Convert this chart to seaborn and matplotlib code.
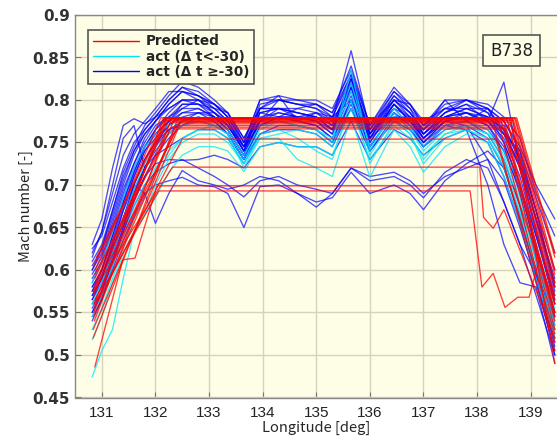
import matplotlib
matplotlib.use("Agg")
import matplotlib.pyplot as plt
from matplotlib.lines import Line2D
import pandas as pd
import seaborn as sns

sns.set_style("ticks")
plt.rcParams['font.family'] = ['Noto Sans CJK JP', 'DejaVu Sans']

# Longitudes at which the recorded (actual) Mach numbers are sampled
lon_act = [130.82, 131.0, 131.2, 131.4, 131.6, 131.8, 132.0, 132.25, 132.5, 132.8,
           133.1, 133.35, 133.65, 133.95, 134.3, 134.65, 135.0, 135.3, 135.65, 136.0,
           136.45, 136.75, 137.0, 137.4, 137.8, 138.2, 138.5, 138.8, 139.1, 139.45]

# Actual Mach number, flights with delta t >= -30
act_late = [
    [0.625, 0.64, 0.68, 0.72, 0.75, 0.765, 0.78, 0.80, 0.815, 0.81, 0.795, 0.78, 0.745, 0.795, 0.80, 0.795, 0.79, 0.775, 0.858, 0.765, 0.81, 0.79, 0.76, 0.785, 0.795, 0.785, 0.77, 0.73, 0.66, 0.575],
    [0.61, 0.63, 0.67, 0.715, 0.745, 0.77, 0.785, 0.805, 0.822, 0.815, 0.80, 0.785, 0.75, 0.80, 0.805, 0.80, 0.80, 0.79, 0.835, 0.77, 0.815, 0.795, 0.77, 0.795, 0.80, 0.79, 0.775, 0.745, 0.70, 0.66],
    [0.60, 0.62, 0.66, 0.70, 0.735, 0.76, 0.775, 0.795, 0.81, 0.805, 0.79, 0.775, 0.74, 0.79, 0.805, 0.775, 0.785, 0.77, 0.825, 0.76, 0.805, 0.785, 0.765, 0.79, 0.79, 0.78, 0.765, 0.735, 0.67, 0.58],
    [0.63, 0.66, 0.72, 0.77, 0.778, 0.772, 0.78, 0.79, 0.80, 0.80, 0.785, 0.77, 0.745, 0.785, 0.79, 0.785, 0.78, 0.765, 0.82, 0.755, 0.80, 0.785, 0.76, 0.785, 0.795, 0.775, 0.821, 0.72, 0.66, 0.59],
    [0.615, 0.645, 0.70, 0.755, 0.77, 0.72, 0.745, 0.775, 0.795, 0.795, 0.78, 0.765, 0.735, 0.78, 0.785, 0.78, 0.775, 0.76, 0.815, 0.75, 0.795, 0.775, 0.75, 0.775, 0.785, 0.775, 0.755, 0.71, 0.64, 0.56],
    [0.58, 0.60, 0.64, 0.68, 0.715, 0.745, 0.765, 0.785, 0.80, 0.80, 0.785, 0.77, 0.74, 0.785, 0.78, 0.78, 0.785, 0.78, 0.83, 0.76, 0.80, 0.78, 0.755, 0.78, 0.79, 0.78, 0.76, 0.72, 0.65, 0.565],
    [0.57, 0.59, 0.63, 0.67, 0.71, 0.74, 0.76, 0.775, 0.79, 0.79, 0.78, 0.765, 0.735, 0.775, 0.785, 0.78, 0.78, 0.765, 0.81, 0.755, 0.795, 0.775, 0.755, 0.78, 0.785, 0.775, 0.75, 0.70, 0.62, 0.535],
    [0.56, 0.58, 0.62, 0.66, 0.70, 0.73, 0.75, 0.77, 0.785, 0.79, 0.78, 0.765, 0.735, 0.775, 0.78, 0.78, 0.775, 0.76, 0.805, 0.75, 0.79, 0.77, 0.75, 0.775, 0.78, 0.77, 0.745, 0.69, 0.61, 0.52],
    [0.595, 0.615, 0.655, 0.695, 0.725, 0.75, 0.77, 0.78, 0.79, 0.80, 0.79, 0.775, 0.745, 0.79, 0.79, 0.785, 0.78, 0.77, 0.82, 0.765, 0.80, 0.785, 0.765, 0.80, 0.775, 0.79, 0.76, 0.725, 0.66, 0.585],
    [0.55, 0.57, 0.61, 0.65, 0.69, 0.72, 0.745, 0.765, 0.775, 0.78, 0.775, 0.76, 0.73, 0.77, 0.78, 0.775, 0.77, 0.755, 0.80, 0.745, 0.785, 0.77, 0.745, 0.77, 0.775, 0.76, 0.73, 0.675, 0.595, 0.51],
    [0.585, 0.61, 0.65, 0.69, 0.725, 0.755, 0.775, 0.795, 0.81, 0.805, 0.795, 0.78, 0.75, 0.775, 0.80, 0.795, 0.79, 0.78, 0.825, 0.765, 0.805, 0.79, 0.77, 0.79, 0.80, 0.79, 0.765, 0.72, 0.645, 0.56],
    [0.57, 0.59, 0.625, 0.66, 0.695, 0.72, 0.735, 0.745, 0.755, 0.765, 0.765, 0.755, 0.725, 0.76, 0.765, 0.765, 0.76, 0.745, 0.79, 0.74, 0.775, 0.765, 0.745, 0.765, 0.77, 0.755, 0.72, 0.665, 0.59, 0.50],
    [0.545, 0.565, 0.60, 0.635, 0.665, 0.69, 0.70, 0.705, 0.709, 0.70, 0.698, 0.69, 0.65, 0.698, 0.70, 0.69, 0.68, 0.685, 0.715, 0.69, 0.70, 0.69, 0.671, 0.705, 0.725, 0.74, 0.72, 0.66, 0.60, 0.53],
    [0.555, 0.575, 0.61, 0.645, 0.675, 0.70, 0.715, 0.725, 0.73, 0.72, 0.71, 0.70, 0.686, 0.705, 0.71, 0.70, 0.695, 0.69, 0.72, 0.71, 0.715, 0.705, 0.69, 0.71, 0.72, 0.73, 0.705, 0.65, 0.59, 0.515],
    [0.565, 0.59, 0.63, 0.67, 0.70, 0.69, 0.655, 0.69, 0.717, 0.705, 0.70, 0.695, 0.70, 0.71, 0.705, 0.69, 0.674, 0.69, 0.72, 0.705, 0.71, 0.70, 0.685, 0.715, 0.73, 0.72, 0.68, 0.63, 0.57, 0.50],
    [0.54, 0.565, 0.605, 0.645, 0.68, 0.71, 0.735, 0.755, 0.77, 0.78, 0.775, 0.76, 0.73, 0.77, 0.775, 0.77, 0.765, 0.75, 0.80, 0.745, 0.785, 0.77, 0.75, 0.77, 0.765, 0.70, 0.63, 0.585, 0.58, 0.49],
    [0.575, 0.60, 0.64, 0.68, 0.715, 0.745, 0.765, 0.78, 0.795, 0.795, 0.785, 0.77, 0.74, 0.785, 0.79, 0.785, 0.78, 0.765, 0.815, 0.755, 0.795, 0.775, 0.755, 0.775, 0.77, 0.73, 0.68, 0.63, 0.595, 0.545],
    [0.605, 0.625, 0.665, 0.705, 0.74, 0.765, 0.78, 0.80, 0.815, 0.805, 0.795, 0.78, 0.75, 0.80, 0.80, 0.795, 0.795, 0.785, 0.84, 0.77, 0.81, 0.795, 0.77, 0.80, 0.80, 0.795, 0.78, 0.755, 0.69, 0.64],
    [0.59, 0.61, 0.645, 0.685, 0.72, 0.745, 0.76, 0.775, 0.785, 0.785, 0.775, 0.76, 0.73, 0.77, 0.78, 0.775, 0.77, 0.755, 0.795, 0.745, 0.785, 0.765, 0.745, 0.77, 0.775, 0.765, 0.74, 0.695, 0.625, 0.545],
    [0.55, 0.575, 0.615, 0.65, 0.685, 0.71, 0.725, 0.73, 0.729, 0.73, 0.735, 0.73, 0.72, 0.745, 0.75, 0.745, 0.745, 0.735, 0.775, 0.73, 0.765, 0.755, 0.735, 0.755, 0.765, 0.75, 0.71, 0.655, 0.585, 0.505],
    [0.60, 0.625, 0.67, 0.71, 0.74, 0.76, 0.775, 0.79, 0.80, 0.795, 0.79, 0.785, 0.755, 0.79, 0.80, 0.80, 0.795, 0.785, 0.83, 0.77, 0.80, 0.795, 0.775, 0.79, 0.785, 0.77, 0.74, 0.70, 0.64, 0.57],
    [0.58, 0.60, 0.635, 0.675, 0.71, 0.74, 0.755, 0.77, 0.78, 0.785, 0.78, 0.77, 0.74, 0.775, 0.79, 0.79, 0.785, 0.775, 0.815, 0.76, 0.79, 0.78, 0.76, 0.78, 0.785, 0.78, 0.765, 0.73, 0.67, 0.60],
    [0.565, 0.585, 0.62, 0.655, 0.69, 0.72, 0.74, 0.76, 0.775, 0.785, 0.785, 0.775, 0.745, 0.77, 0.78, 0.79, 0.795, 0.78, 0.80, 0.755, 0.78, 0.78, 0.765, 0.785, 0.80, 0.785, 0.75, 0.70, 0.63, 0.55],
    [0.62, 0.645, 0.69, 0.735, 0.76, 0.775, 0.79, 0.81, 0.81, 0.80, 0.795, 0.785, 0.755, 0.79, 0.79, 0.78, 0.775, 0.765, 0.825, 0.76, 0.795, 0.78, 0.755, 0.775, 0.78, 0.775, 0.76, 0.74, 0.685, 0.62],
    [0.575, 0.595, 0.625, 0.66, 0.70, 0.73, 0.75, 0.765, 0.77, 0.775, 0.77, 0.76, 0.73, 0.76, 0.77, 0.77, 0.765, 0.75, 0.79, 0.74, 0.78, 0.775, 0.76, 0.78, 0.79, 0.79, 0.775, 0.74, 0.67, 0.58],
]

# Actual Mach number, flights with delta t < -30
act_early = [
    [0.474, 0.505, 0.53, 0.59, 0.645, 0.665, 0.685, 0.715, 0.735, 0.745, 0.745, 0.74, 0.716, 0.745, 0.75, 0.745, 0.745, 0.735, 0.79, 0.73, 0.77, 0.755, 0.735, 0.76, 0.765, 0.755, 0.725, 0.67, 0.60, 0.53],
    [0.518, 0.545, 0.585, 0.62, 0.645, 0.665, 0.70, 0.73, 0.75, 0.76, 0.76, 0.75, 0.725, 0.755, 0.755, 0.73, 0.72, 0.71, 0.78, 0.709, 0.765, 0.745, 0.715, 0.745, 0.76, 0.75, 0.71, 0.655, 0.59, 0.52],
    [0.56, 0.585, 0.62, 0.66, 0.695, 0.725, 0.745, 0.76, 0.77, 0.775, 0.77, 0.76, 0.73, 0.765, 0.775, 0.77, 0.765, 0.75, 0.835, 0.74, 0.79, 0.77, 0.745, 0.77, 0.775, 0.765, 0.735, 0.685, 0.615, 0.54],
    [0.585, 0.61, 0.645, 0.685, 0.72, 0.745, 0.76, 0.77, 0.775, 0.78, 0.775, 0.765, 0.735, 0.77, 0.775, 0.77, 0.765, 0.755, 0.82, 0.745, 0.785, 0.765, 0.74, 0.765, 0.77, 0.76, 0.73, 0.68, 0.61, 0.535],
    [0.53, 0.555, 0.59, 0.625, 0.66, 0.685, 0.71, 0.735, 0.755, 0.765, 0.765, 0.755, 0.725, 0.76, 0.765, 0.755, 0.74, 0.73, 0.80, 0.725, 0.775, 0.76, 0.725, 0.755, 0.765, 0.755, 0.72, 0.665, 0.60, 0.525],
    [0.545, 0.57, 0.605, 0.64, 0.675, 0.70, 0.72, 0.74, 0.755, 0.765, 0.77, 0.76, 0.72, 0.755, 0.76, 0.765, 0.76, 0.745, 0.81, 0.735, 0.78, 0.76, 0.73, 0.76, 0.77, 0.76, 0.74, 0.70, 0.63, 0.555],
]

# Predicted profiles: climb, constant-Mach cruise, descent
pred_start_lon = [130.85, 130.85, 130.87, 130.86, 130.88, 130.85, 130.90, 130.84, 130.86, 130.88, 130.85, 130.87, 130.86, 130.85, 130.85, 130.88, 130.84]
pred_start_m = [0.550, 0.570, 0.590, 0.540, 0.600, 0.560, 0.615, 0.520, 0.580, 0.565, 0.545, 0.595, 0.555, 0.575, 0.605, 0.585, 0.530]
pred_top_lon = [132.15, 132.20, 132.25, 132.30, 132.10, 132.35, 132.20, 132.40, 132.28, 132.45, 132.38, 132.30, 132.50, 132.45, 132.18, 132.22, 132.42]
pred_level = [0.779, 0.779, 0.778, 0.778, 0.779, 0.777, 0.776, 0.775, 0.774, 0.774, 0.770, 0.768, 0.754, 0.772, 0.779, 0.778, 0.766]
pred_drop_lon = [138.70, 138.65, 138.60, 138.72, 138.55, 138.50, 138.68, 138.45, 138.62, 138.40, 138.58, 138.50, 138.35, 138.30, 138.74, 138.66, 138.52]
pred_end_lon = 139.45
pred_end_m = [0.600, 0.585, 0.570, 0.615, 0.560, 0.545, 0.595, 0.530, 0.580, 0.515, 0.565, 0.550, 0.525, 0.505, 0.620, 0.490, 0.540]

# Predicted profiles with irregular segments
pred_step_lon = [130.87, 131.39, 131.62, 132.03, 138.67, 139.45]
pred_step_m = [0.486, 0.612, 0.614, 0.699, 0.699, 0.560]
pred_zig_lon = [130.86, 132.06, 137.87, 138.09, 138.30, 138.52, 138.76, 138.97, 139.17, 139.45]
pred_zig_m = [0.560, 0.693, 0.693, 0.580, 0.596, 0.556, 0.568, 0.568, 0.615, 0.550]
pred_dip_lon = [130.84, 132.32, 138.05, 138.12, 138.30, 138.50, 139.45]
pred_dip_m = [0.575, 0.721, 0.721, 0.662, 0.649, 0.671, 0.520]

xticks = [131, 132, 133, 134, 135, 136, 137, 138, 139]
yticks = [0.45, 0.5, 0.55, 0.6, 0.65, 0.7, 0.75, 0.8, 0.85, 0.9]
ytick_labels = ['0.45', '0.5', '0.55', '0.6', '0.65', '0.7', '0.75', '0.8', '0.85', '0.9']
legend_labels = ['Predicted', 'act (Δ t<-30)', 'act (Δ t ≥-30)']
aircraft = 'B738'


def to_frame(tracks, tag):
    rows = []
    for i, (xs, ys) in enumerate(tracks):
        for x, y in zip(xs, ys):
            rows.append((f"{tag}{i}", x, y))
    return pd.DataFrame(rows, columns=["flight", "lon", "mach"])


late_df = to_frame([(lon_act, m) for m in act_late], "late")
early_df = to_frame([(lon_act, m) for m in act_early], "early")

pred_tracks = []
for i in range(len(pred_level)):
    pred_tracks.append((
        [pred_start_lon[i], pred_top_lon[i], pred_drop_lon[i], pred_end_lon],
        [pred_start_m[i], pred_level[i], pred_level[i], pred_end_m[i]],
    ))
pred_tracks.append((pred_step_lon, pred_step_m))
pred_tracks.append((pred_zig_lon, pred_zig_m))
pred_tracks.append((pred_dip_lon, pred_dip_m))
pred_df = to_frame(pred_tracks, "pred")

C_PRED = '#ff0000'
C_EARLY = '#00e8f8'
C_LATE = '#0000ff'
BG = '#fefde6'

fig = plt.figure(figsize=(5.57, 4.44), dpi=100)
ax = fig.add_axes([75 / 557, 1 - 397.5 / 444, 482.5 / 557, 382.5 / 444])
ax.set_facecolor(BG)

common = dict(x="lon", y="mach", units="flight", estimator=None, sort=False,
              legend=False, ax=ax, linewidth=0.95)
sns.lineplot(data=late_df, color=C_LATE, alpha=0.7, **common)
sns.lineplot(data=early_df, color=C_EARLY, alpha=0.75, **common)
sns.lineplot(data=pred_df, color=C_PRED, alpha=0.75, **common)

ax.set_xlim(130.5, 139.5)
ax.set_ylim(0.45, 0.9)
ax.set_xticks(xticks)
ax.set_yticks(yticks)
ax.set_yticklabels(ytick_labels)
ax.grid(True, color='#d6d3bd', linewidth=1.0)
ax.set_axisbelow(True)
ax.tick_params(direction='in', length=4, width=0.8, color='#777777',
               labelcolor='#262626')
ax.tick_params(axis='x', pad=6)
for lab in ax.get_yticklabels():
    lab.set_fontfamily('DejaVu Sans')
    lab.set_fontweight('bold')
    lab.set_fontsize(11)
    lab.set_color('#333333')
for lab in ax.get_xticklabels():
    lab.set_fontfamily('Liberation Sans')
    lab.set_fontsize(11)
    lab.set_color('#222222')
for s in ax.spines.values():
    s.set_color('#888888')
    s.set_linewidth(1.0)

ax.set_xlabel('Longitude [deg]', fontsize=10.5, color='#262626', labelpad=1)
ax.set_ylabel('Mach number [-]', fontsize=10.5, color='#262626', labelpad=0)

handles = [Line2D([], [], color=c, lw=1.0) for c in (C_PRED, C_EARLY, C_LATE)]
leg = ax.legend(handles, legend_labels, loc='upper left',
                bbox_to_anchor=(0.027, 0.962),
                handlelength=3.4, handletextpad=0.5, labelspacing=0.1,
                borderpad=0.35, borderaxespad=0.0, fancybox=False,
                framealpha=1.0, facecolor=BG, edgecolor='#555555',
                prop={'family': 'DejaVu Sans', 'weight': 'bold', 'size': 9.8})
leg.get_frame().set_linewidth(1.2)

ax.text(0.905, 0.907, aircraft, transform=ax.transAxes, ha='center', va='center',
        fontsize=12, color='#222222', family='DejaVu Sans',
        bbox=dict(boxstyle='square,pad=0.4', facecolor=BG, edgecolor='#555555',
                  linewidth=1.2))

fig.savefig('out.png', dpi=100, facecolor='white')
